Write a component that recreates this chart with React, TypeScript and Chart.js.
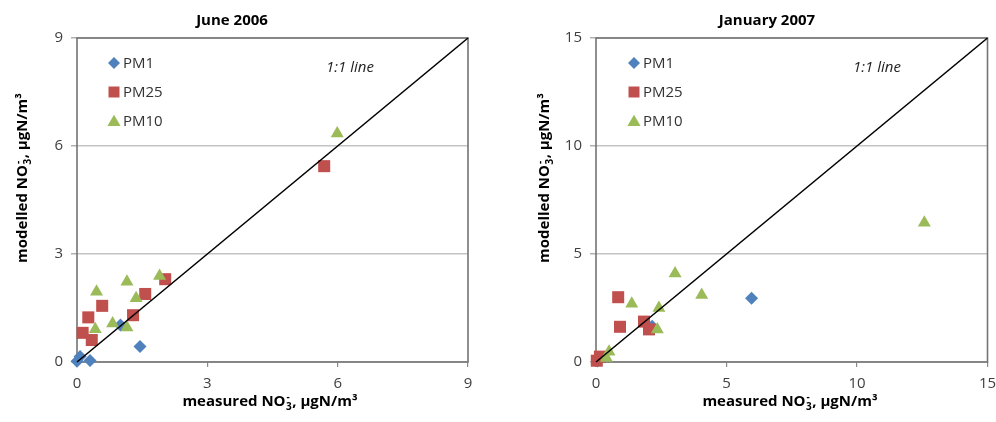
import React, { useEffect, useRef } from 'react';
import { Chart, registerables } from 'chart.js';

Chart.register(...registerables);

type Pt = { x: number; y: number };

// ---- Data: June 2006 ----
const juneTicks = [0, 3, 6, 9];
const junePM1: Pt[] = [
  { x: 0.0, y: 0.02 }, { x: 0.07, y: 0.15 }, { x: 0.3, y: 0.04 },
  { x: 1.0, y: 1.03 }, { x: 1.45, y: 0.43 },
];
const junePM25: Pt[] = [
  { x: 0.13, y: 0.81 }, { x: 0.26, y: 1.24 }, { x: 0.34, y: 0.61 },
  { x: 0.58, y: 1.56 }, { x: 1.29, y: 1.3 }, { x: 1.57, y: 1.89 },
  { x: 2.03, y: 2.3 }, { x: 5.69, y: 5.44 },
];
const junePM10: Pt[] = [
  { x: 0.42, y: 0.91 }, { x: 0.45, y: 1.95 }, { x: 0.82, y: 1.07 },
  { x: 1.15, y: 0.96 }, { x: 1.15, y: 2.23 }, { x: 1.36, y: 1.77 },
  { x: 1.9, y: 2.39 }, { x: 5.99, y: 6.35 },
];

// ---- Data: January 2007 ----
const janTicks = [0, 5, 10, 15];
const janPM1: Pt[] = [
  { x: 0.05, y: 0.05 }, { x: 2.15, y: 1.65 }, { x: 5.96, y: 2.95 },
];
const janPM25: Pt[] = [
  { x: 0.03, y: 0.06 }, { x: 0.15, y: 0.25 }, { x: 0.85, y: 3.0 },
  { x: 0.92, y: 1.63 }, { x: 1.84, y: 1.87 }, { x: 2.03, y: 1.51 },
];
const janPM10: Pt[] = [
  { x: 0.4, y: 0.18 }, { x: 0.5, y: 0.48 }, { x: 1.37, y: 2.7 },
  { x: 2.35, y: 1.5 }, { x: 2.41, y: 2.5 }, { x: 3.03, y: 4.1 },
  { x: 4.05, y: 3.1 }, { x: 12.58, y: 6.45 },
];

const seriesNames = ['PM1', 'PM25', 'PM10'];
const FONT = "'Open Sans', sans-serif";
const BLUE = '#4f81bd';
const RED = '#c0504d';
const GREEN = '#9bbb59';

function marker(ctx: CanvasRenderingContext2D, kind: number, x: number, y: number, r: number, color: string) {
  ctx.save();
  ctx.fillStyle = color;
  ctx.beginPath();
  if (kind === 0) {
    ctx.moveTo(x - r, y); ctx.lineTo(x, y - r); ctx.lineTo(x + r, y); ctx.lineTo(x, y + r);
  } else if (kind === 1) {
    ctx.rect(x - r, y - r, 2 * r, 2 * r);
  } else {
    ctx.moveTo(x, y - r * 1.05); ctx.lineTo(x + r * 1.1, y + r * 0.85); ctx.lineTo(x - r * 1.1, y + r * 0.85);
  }
  ctx.closePath();
  ctx.fill();
  ctx.restore();
}

function drawRich(ctx: CanvasRenderingContext2D, prefix: string, cx: number, cy: number, rotate: boolean) {
  const big = `bold 15px ${FONT}`;
  const small = `bold 10px ${FONT}`;
  const p1 = prefix + ' NO';
  const p2 = ', \u00b5gN/m\u00b3';
  ctx.save();
  ctx.translate(cx, cy);
  if (rotate) ctx.rotate(-Math.PI / 2);
  ctx.fillStyle = '#000';
  ctx.textBaseline = 'middle';
  ctx.textAlign = 'left';
  ctx.font = big;
  const w1 = ctx.measureText(p1).width;
  const w2 = ctx.measureText(p2).width;
  ctx.font = small;
  const ws = Math.max(ctx.measureText('3').width, ctx.measureText('-').width) + 1;
  const total = w1 + ws + w2;
  let x = -total / 2;
  ctx.font = big;
  ctx.fillText(p1, x, 0);
  x += w1;
  ctx.font = small;
  ctx.fillText('3', x + 0.5, 5);
  ctx.fillText('-', x + 1, -5);
  x += ws;
  ctx.font = big;
  ctx.fillText(p2, x, 0);
  ctx.restore();
}

const overlay = {
  id: 'overlay',
  beforeDatasetsDraw(chart: any) {
    const { ctx, chartArea: a } = chart;
    ctx.save();
    ctx.strokeStyle = '#747474';
    ctx.lineWidth = 1.6;
    ctx.strokeRect(a.left, a.top, a.right - a.left, a.bottom - a.top);
    ctx.restore();
  },
  afterDraw(chart: any, _args: any, o: any) {
    const ctx: CanvasRenderingContext2D = chart.ctx;
    ctx.save();
    ctx.fillStyle = '#000';
    ctx.textAlign = 'center';
    ctx.textBaseline = 'middle';
    ctx.font = `bold 15px ${FONT}`;
    ctx.fillText(o.title, o.titleX, 21);
    ctx.font = `italic 15px ${FONT}`;
    ctx.fillStyle = '#222';
    ctx.fillText('1:1 line', o.lineLabelX, 68);
    const colors = [BLUE, RED, GREEN];
    const rs = [6, 5.5, 6];
    ctx.font = `15px ${FONT}`;
    ctx.textAlign = 'left';
    seriesNames.forEach((n, i) => {
      const y = 63 + i * 29;
      marker(ctx, i, o.legendX, y, rs[i], colors[i]);
      ctx.fillStyle = '#333';
      ctx.fillText(n, o.legendX + 9, y + 1);
    });
    ctx.restore();
    drawRich(ctx, 'modelled', o.yTitleX, 178, true);
    drawRich(ctx, 'measured', o.xTitleX, 402, false);
  },
};

type Spec = {
  title: string;
  ticks: number[];
  pm1: Pt[];
  pm25: Pt[];
  pm10: Pt[];
  yWidth: number;
  padRight: number;
  titleX: number;
  lineLabelX: number;
  legendX: number;
  yTitleX: number;
  xTitleX: number;
};

function makeConfig(s: Spec): any {
  const max = s.ticks[s.ticks.length - 1];
  const setTicks = (scale: any) => {
    scale.ticks = s.ticks.map((v) => ({ value: v }));
  };
  return {
    type: 'scatter',
    data: {
      datasets: [
        {
          label: '1:1',
          data: [{ x: 0, y: 0 }, { x: max, y: max }],
          showLine: true,
          borderColor: '#000',
          borderWidth: 1.6,
          pointRadius: 0,
          clip: false,
        },
        {
          label: 'PM10', data: s.pm10, pointStyle: 'triangle', pointRadius: 7.5,
          backgroundColor: GREEN, borderColor: GREEN, borderWidth: 0, clip: false,
        },
        {
          label: 'PM25', data: s.pm25, pointStyle: 'rect', pointRadius: 8.5,
          backgroundColor: RED, borderColor: RED, borderWidth: 0, clip: false,
        },
        {
          label: 'PM1', data: s.pm1, pointStyle: 'rectRot', pointRadius: 6.5,
          backgroundColor: BLUE, borderColor: BLUE, borderWidth: 0, clip: false,
        },
      ],
    },
    options: {
      animation: false,
      responsive: false,
      devicePixelRatio: 1,
      events: [],
      layout: { padding: { top: 38, right: s.padRight, left: 0, bottom: 0 } },
      plugins: {
        legend: { display: false },
        tooltip: { enabled: false },
        overlay: {
          title: s.title, titleX: s.titleX, lineLabelX: s.lineLabelX,
          legendX: s.legendX, yTitleX: s.yTitleX, xTitleX: s.xTitleX,
        },
      },
      scales: {
        x: {
          type: 'linear', min: 0, max,
          afterBuildTicks: setTicks,
          afterFit: (sc: any) => { sc.height = 60; sc.paddingLeft = 0; sc.paddingRight = 0; },
          border: { display: false },
          grid: { drawOnChartArea: false, drawTicks: true, tickLength: 5, tickColor: '#8a8a8a', lineWidth: 1.2 },
          ticks: { padding: 8, maxRotation: 0, color: '#404040', font: { family: FONT, size: 15 } },
        },
        y: {
          type: 'linear', min: 0, max,
          afterBuildTicks: setTicks,
          afterFit: (sc: any) => { sc.width = s.yWidth; sc.paddingTop = 0; sc.paddingBottom = 0; },
          border: { display: false },
          grid: { color: '#c4c4c4', lineWidth: 1.5, tickLength: 6, tickColor: '#b0b0b0' },
          ticks: { padding: 8, color: '#404040', font: { family: FONT, size: 15 } },
        },
      },
    },
    plugins: [overlay],
  };
}

const juneSpec: Spec = {
  title: 'June 2006', ticks: juneTicks, pm1: junePM1, pm25: junePM25, pm10: junePM10,
  yWidth: 77, padRight: 30, titleX: 232, lineLabelX: 350, legendX: 114, yTitleX: 23, xTitleX: 270,
};
const janSpec: Spec = {
  title: 'January 2007', ticks: janTicks, pm1: janPM1, pm25: janPM25, pm10: janPM10,
  yWidth: 98, padRight: 8, titleX: 269, lineLabelX: 379, legendX: 136, yTitleX: 47, xTitleX: 292,
};

function Panel({ spec, left }: { spec: Spec; left: number }) {
  const ref = useRef<HTMLCanvasElement>(null);
  useEffect(() => {
    const chart = new Chart(ref.current as HTMLCanvasElement, makeConfig(spec));
    return () => chart.destroy();
  }, [spec]);
  return (
    <div style={{ position: 'absolute', left, top: 0, width: 498, height: 422 }}>
      <canvas ref={ref} width={498} height={422} style={{ display: 'block', width: 498, height: 422 }} />
    </div>
  );
}

export default function App() {
  return (
    <div style={{ position: 'fixed', left: 0, top: 0, width: 996, height: 422, background: '#fff', overflow: 'hidden' }}>
      <Panel spec={juneSpec} left={0} />
      <Panel spec={janSpec} left={498} />
    </div>
  );
}
